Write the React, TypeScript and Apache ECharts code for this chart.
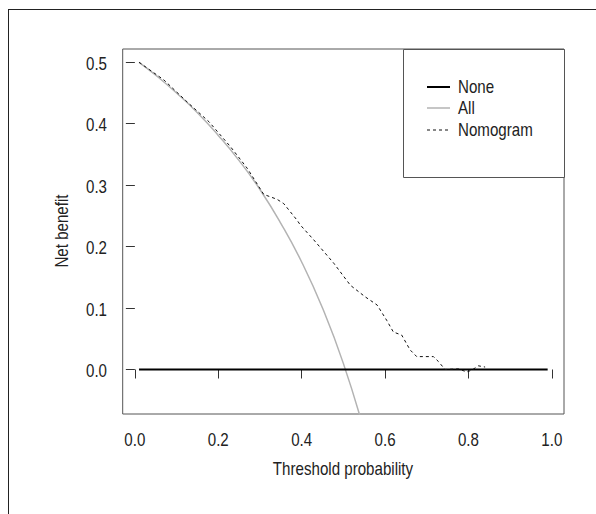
import React, { useEffect, useRef } from "react";
import * as echarts from "echarts";

const FONT = "'Liberation Sans', Arial, sans-serif";
const FS = 18;
const SX = 0.84;

const xTicks = [0, 0.2, 0.4, 0.6, 0.8, 1.0];
const yTicks = [0, 0.1, 0.2, 0.3, 0.4, 0.5];

const noneX = [0.01, 0.99];
const noneY = [0, 0];

const allX = [0.01, 0.05, 0.1, 0.15, 0.2, 0.25, 0.3, 0.35, 0.4, 0.45, 0.5, 0.55];
const allY = [0.5, 0.479, 0.45, 0.418, 0.381, 0.34, 0.293, 0.238, 0.175, 0.1, 0.01, -0.1];

const nomoX = [0.01, 0.07, 0.126, 0.178, 0.23, 0.27, 0.309, 0.341, 0.357, 0.389, 0.397, 0.429, 0.477, 0.517, 0.553, 0.581, 0.604, 0.62, 0.64, 0.66, 0.676, 0.716, 0.728, 0.744, 0.776, 0.796, 0.808, 0.824, 0.84];
const nomoY = [0.5, 0.471, 0.435, 0.403, 0.362, 0.327, 0.285, 0.277, 0.27, 0.243, 0.235, 0.211, 0.173, 0.137, 0.118, 0.105, 0.08, 0.061, 0.056, 0.032, 0.021, 0.021, 0.013, 0.0, 0.001, -0.004, -0.001, 0.006, 0.004];

const legendNames = ["None", "All", "Nomogram"];

const pairs = (xs: number[], ys: number[]) => xs.map((x, i) => [x, ys[i]]);

export default function App() {
  const ref = useRef<HTMLDivElement>(null);
  useEffect(() => {
    if (!ref.current) return;
    const chart = echarts.init(ref.current, null, { renderer: "svg" });
    const textColor = "#222";
    const legX = 403, legY = 49, legW = 161, legH = 128;
    const rowY = [87, 108, 130];
    const legStyles = [
      { stroke: "#000", lineWidth: 2 },
      { stroke: "#b3b3b3", lineWidth: 1.5 },
      { stroke: "#111", lineWidth: 1, lineDash: [3, 3] },
    ];
    const txt = (text: string, x: number, y: number, align: string, extra: any = {}) => ({
      type: "text",
      x,
      y,
      scaleX: SX,
      style: { text, fontSize: FS, fontFamily: FONT, fill: textColor, align, verticalAlign: "middle" },
      ...extra,
    });
    chart.setOption({
      animation: false,
      backgroundColor: "#fff",
      textStyle: { fontFamily: FONT },
      grid: {
        left: 122.7,
        top: 49,
        right: 32,
        bottom: 100,
        show: true,
        borderColor: "#555",
        borderWidth: 1,
        backgroundColor: "transparent",
      },
      xAxis: {
        type: "value",
        min: -0.0292,
        max: 1.0292,
        splitLine: { show: false },
        axisLine: { show: false },
        axisTick: { show: true, length: 9, lineStyle: { color: "#333" }, customValues: xTicks },
        axisLabel: { show: false },
      },
      yAxis: {
        type: "value",
        min: -0.0724,
        max: 0.5216,
        splitLine: { show: false },
        axisLine: { show: false },
        axisTick: { show: true, length: 9, lineStyle: { color: "#333" }, customValues: yTicks },
        axisLabel: { show: false },
      },
      series: [
        {
          name: "All",
          type: "line",
          data: pairs(allX, allY),
          smooth: true,
          showSymbol: false,
          clip: true,
          lineStyle: { color: "#b3b3b3", width: 1.5 },
        },
        {
          name: "None",
          type: "line",
          data: pairs(noneX, noneY),
          showSymbol: false,
          lineStyle: { color: "#000", width: 2.2 },
        },
        {
          name: "Nomogram",
          type: "line",
          data: pairs(nomoX, nomoY),
          showSymbol: false,
          lineStyle: { color: "#111", width: 1, type: [3, 3] },
        },
      ],
    });
    const xLabels = xTicks.map((v) => {
      const px = chart.convertToPixel({ xAxisIndex: 0 }, v) as number;
      return txt(v.toFixed(1), px, 440, "center");
    });
    const yLabels = yTicks.map((v) => {
      const py = chart.convertToPixel({ yAxisIndex: 0 }, v) as number;
      return txt(v.toFixed(1), 107, py + 1.5, "right");
    });
    chart.setOption({
      graphic: [
        { type: "line", shape: { x1: 8, y1: 9.5, x2: 596, y2: 9.5 }, style: { stroke: "#222", lineWidth: 1 } },
        { type: "line", shape: { x1: 8.5, y1: 9, x2: 8.5, y2: 514 }, style: { stroke: "#222", lineWidth: 1 } },
        {
          type: "rect",
          shape: { x: legX + 0.5, y: legY + 0.5, width: legW, height: legH },
          style: { fill: "#fff", stroke: "#555", lineWidth: 1 },
          z: 10,
        },
        ...legendNames.map((n, i) => ({
          type: "line",
          shape: { x1: 427, y1: rowY[i], x2: 450, y2: rowY[i] },
          style: legStyles[i],
          z: 11,
        })),
        ...legendNames.map((n, i) => txt(n, 458, rowY[i], "left", { z: 11 })),
        ...xLabels,
        ...yLabels,
        txt("Threshold probability", 343, 469, "center"),
        txt("Net benefit", 62, 231, "center", { rotation: Math.PI / 2 }),
      ],
    });
    return () => chart.dispose();
  }, []);
  return (
    <div
      ref={ref}
      style={{ position: "fixed", left: 0, top: 0, width: 596, height: 514 }}
    />
  );
}
